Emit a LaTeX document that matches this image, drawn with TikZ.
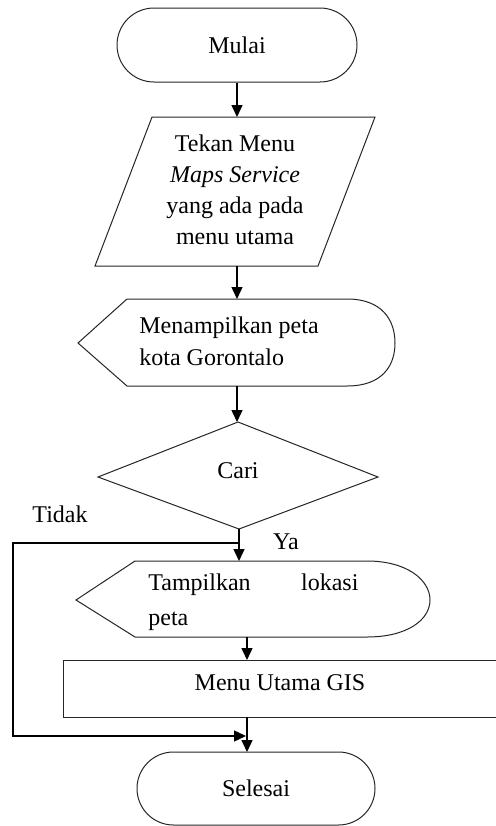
\documentclass[tikz,border=0pt]{standalone}
\usepackage{fontspec}
\setmainfont{Liberation Serif}
\usetikzlibrary{shapes.misc,arrows.meta}
\begin{document}
\begin{tikzpicture}[x=0.5pt,y=-0.5pt,
  shapeline/.style={draw=black!85,line width=0.5pt},
  term/.style={shapeline,rounded rectangle,inner sep=0pt},
  txt/.style={inner sep=0pt,font=\fontsize{12}{15.5}\selectfont},
  arr/.style={draw=black,line width=0.7pt,-{Triangle[length=6pt,width=5.5pt]}},
  conn/.style={draw=black,line width=0.7pt}]
\useasboundingbox (0,0) rectangle (495,826);
\fill[white] (0,0) rectangle (495,826);
% Mulai
\node[term,minimum width=120pt,minimum height=37pt,txt] (mulai) at (237,45) {Mulai};
% Parallelogram
\draw[shapeline] (152,117) -- (375,117) -- (318,266) -- (95,266) -- cycle;
\coordinate (tekanT) at (237,117);
\coordinate (tekanB) at (237,266);
\node[txt,align=center] (tekan) at (235,190) {Tekan Menu\\\textit{Maps Service}\\yang ada pada\\menu utama};
% Display 1
\draw[shapeline] (78,343) -- (127,299) -- (347,299) .. controls (382,299) and (395,320) .. (395,343)
  .. controls (395,366) and (382,386) .. (347,386) -- (127,386) -- cycle;
\coordinate (dispAT) at (237,299);
\coordinate (dispAB) at (237,386);
\node[txt,align=left,anchor=west,font=\fontsize{12}{16}\selectfont] (dispA) at (139,341) {Menampilkan peta\\kota Gorontalo};
% Decision
\draw[shapeline] (238,422) -- (378,477) -- (239,529) -- (98,477) -- cycle;
\coordinate (cariT) at (237,422);
\coordinate (cariB) at (239,529);
\node[txt] (cari) at (238,471) {Cari};
\node[txt] (tidak) at (60,514) {Tidak};
\node[txt] (ya) at (286,542) {Ya};
% Display 2
\draw[shapeline] (76,600) -- (135,561) -- (367,561) .. controls (407,561) and (430,580) .. (430,600)
  .. controls (430,620) and (407,637) .. (367,637) -- (135,637) -- cycle;
\coordinate (dispBT) at (239,561);
\coordinate (dispBB) at (247,637);
\node[txt,anchor=west] (dispB) at (148,602) {\parbox{105pt}{\fontsize{12}{17.5}\selectfont Tampilkan\hfill lokasi\\peta}};
% Menu Utama box (cut at right edge)
\draw[shapeline] (496,660) -- (63,660) -- (63,717) -- (496,717);
\coordinate (menuT) at (247,660);
\coordinate (menuB) at (247,717);
\node[txt] (menu) at (280,683) {Menu Utama GIS};
% Selesai
\node[term,minimum width=119pt,minimum height=36.5pt,txt] (selesai) at (256,788.5) {Selesai};
\coordinate (selesaiT) at (247,752);
% Connectors
\draw[arr] (mulai) -- (tekanT);
\draw[arr] (tekanB) -- (dispAT);
\draw[arr] (dispAB) -- (cariT);
\draw[arr] (cariB) -- (dispBT);
\draw[arr] (dispBB) -- (menuT);
\draw[arr] (menuB) -- (selesaiT);
\coordinate (junc) at (239,543);
\coordinate (cA) at (13,543);
\coordinate (cB) at (13,736);
\coordinate (tip) at (246,736);
\draw[arr] (junc) -- (cA) -- (cB) -- (tip);
\end{tikzpicture}
\end{document}
